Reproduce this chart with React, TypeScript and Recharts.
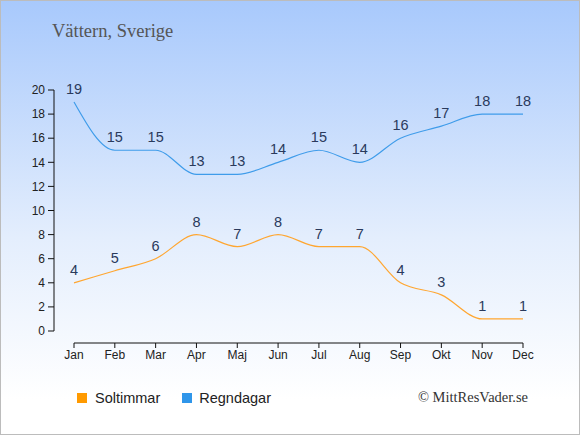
import { LabelList, Line, LineChart, XAxis, YAxis } from "recharts";

// ── data ──────────────────────────────────────────────────────────────────────
const months = ["Jan", "Feb", "Mar", "Apr", "Maj", "Jun", "Jul", "Aug", "Sep", "Okt", "Nov", "Dec"];
const soltimmar = [4, 5, 6, 8, 7, 8, 7, 7, 4, 3, 1, 1];
const regndagar = [19, 15, 15, 13, 13, 14, 15, 14, 16, 17, 18, 18];
const yTicks = [0, 2, 4, 6, 8, 10, 12, 14, 16, 18, 20];

const SUN = "#ffa630";
const RAIN = "#3f9cea";
const LABEL = "#2a3a5c";
const FONT = "'Liberation Sans', Arial, sans-serif";
const SERIF = "'Liberation Serif', 'DejaVu Serif', serif";

const data = months.map((m, i) => ({ month: m, sol: soltimmar[i], regn: regndagar[i] }));

export default function App() {
  return (
    <div
      style={{
        position: "absolute",
        left: 0,
        top: 0,
        width: 580,
        height: 435,
        boxSizing: "border-box",
        border: "1px solid #bcbcbc",
        background: "linear-gradient(to bottom, #a8c9fc 0%, #e4eefd 55%, #ffffff 92%)",
        fontFamily: FONT,
        overflow: "hidden",
      }}
    >
      <div style={{ position: "absolute", left: 51, top: 20, fontFamily: SERIF, fontSize: 18.5, color: "#555" }}>
        Vättern, Sverige
      </div>

      <div style={{ position: "absolute", left: -1, top: -1 }}>
        <LineChart width={580} height={435} data={data} margin={{ top: 90, right: 57, bottom: 62, left: 0 }}>
          {/* spacer axes push the visible axes away from the plot */}
          <XAxis xAxisId="gap" dataKey="month" height={12} axisLine={false} tickLine={false} tick={false} />
          <XAxis
            xAxisId="main"
            dataKey="month"
            height={30}
            interval={0}
            stroke="#111"
            tickSize={5}
            tickMargin={2}
            tick={{ fill: "#222", fontSize: 12, fontFamily: FONT }}
          />
          <YAxis yAxisId="gap" width={20} axisLine={false} tickLine={false} tick={false} domain={[0, 20]} />
          <YAxis
            yAxisId="main"
            width={54}
            domain={[0, 20]}
            ticks={yTicks}
            interval={0}
            stroke="#111"
            tickSize={6}
            tickMargin={3}
            tick={{ fill: "#222", fontSize: 12, fontFamily: FONT }}
          />
          <Line
            xAxisId="main"
            yAxisId="main"
            type="monotone"
            dataKey="sol"
            stroke={SUN}
            strokeWidth={1.2}
            dot={false}
            isAnimationActive={false}
          >
            <LabelList dataKey="sol" position="top" offset={8} fill={LABEL} fontSize={14.5} fontFamily={FONT} />
          </Line>
          <Line
            xAxisId="main"
            yAxisId="main"
            type="monotone"
            dataKey="regn"
            stroke={RAIN}
            strokeWidth={1.2}
            dot={false}
            isAnimationActive={false}
          >
            <LabelList dataKey="regn" position="top" offset={8} fill={LABEL} fontSize={14.5} fontFamily={FONT} />
          </Line>
        </LineChart>
      </div>

      {/* legend */}
      <div style={{ position: "absolute", left: 76, top: 389, display: "flex", alignItems: "center", fontSize: 14.5, color: "#222" }}>
        <span style={{ width: 10, height: 10, background: "#ff9a00", display: "inline-block", marginRight: 8 }} />
        <span>Soltimmar</span>
        <span style={{ width: 10, height: 10, background: "#2f96ea", display: "inline-block", marginLeft: 22, marginRight: 7 }} />
        <span>Regndagar</span>
      </div>
      <div style={{ position: "absolute", right: 51, top: 388, fontFamily: SERIF, fontSize: 14.5, color: "#333" }}>
        © MittResVader.se
      </div>
    </div>
  );
}
